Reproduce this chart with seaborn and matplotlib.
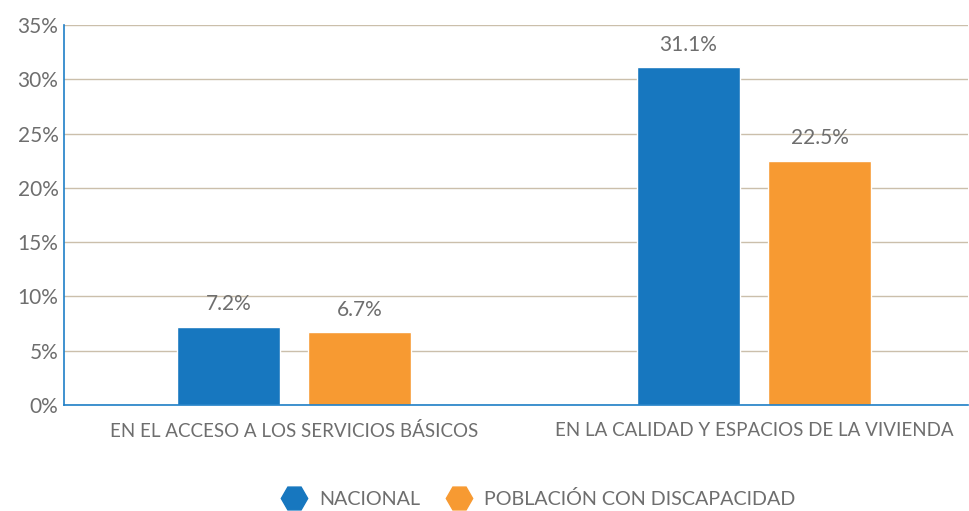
import matplotlib
matplotlib.use("Agg")
import matplotlib.pyplot as plt
import seaborn as sns
import pandas as pd
from matplotlib.lines import Line2D

categories = ["EN EL ACCESO A LOS SERVICIOS BÁSICOS", "EN LA CALIDAD Y ESPACIOS DE LA VIVIENDA"]
series = ["NACIONAL", "POBLACIÓN CON DISCAPACIDAD"]
nacional = [7.2, 31.1]
discapacidad = [6.7, 22.5]
yticks = [0, 5, 10, 15, 20, 25, 30, 35]
colors = ["#1777bf", "#f79a32"]

df = pd.DataFrame({
    "cat": categories * 2,
    "serie": [series[0]] * 2 + [series[1]] * 2,
    "val": nacional + discapacidad,
})

sns.set_theme(style="white")
plt.rcParams["font.family"] = ["Lato", "DejaVu Sans"]
txt = "#6e6e6e"

fig = plt.figure(figsize=(9.69, 5.11), dpi=100)
ax = fig.add_axes([64/969, 106/511, 904/969, 380/511])
sns.barplot(data=df, x="cat", y="val", hue="serie", palette=colors,
            width=0.57, gap=0.214, ax=ax, legend=False, saturation=1)

ax.set_ylim(0, 35)
ax.set_xlim(-0.5, 1.465)
ax.set_yticks(yticks)
ax.set_yticklabels([f"{v}%" for v in yticks], fontsize=15, color=txt)
ax.tick_params(axis="x", labelsize=13.5, labelcolor=txt, pad=12, length=0)
ax.tick_params(axis="y", length=0, pad=4)
ax.set_xlabel("")
ax.set_ylabel("")
ax.yaxis.grid(True, color="#cbbfab", linewidth=1)
ax.set_axisbelow(True)
for s in ["top", "right"]:
    ax.spines[s].set_visible(False)
for s in ["left", "bottom"]:
    ax.spines[s].set_color("#1f7fc7")
    ax.spines[s].set_linewidth(1.2)

for cont in ax.containers:
    ax.bar_label(cont, labels=[f"{v.get_height():.1f}%" for v in cont],
                 padding=9, fontsize=15, color=txt)

handles = [Line2D([], [], marker="H", linestyle="", markersize=19,
                  markerfacecolor=c, markeredgecolor=c) for c in colors]
leg = fig.legend(handles, series, loc="lower center", bbox_to_anchor=(0.552, -0.028),
                 ncol=2, frameon=False, fontsize=14.2, handletextpad=0.25, columnspacing=1.0)
for t in leg.get_texts():
    t.set_color(txt)

fig.savefig("out.png", dpi=100)
